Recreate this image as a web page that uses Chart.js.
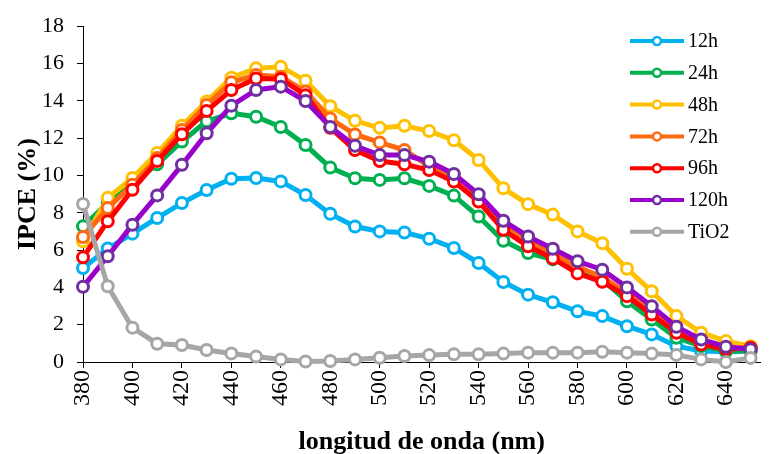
<!DOCTYPE html>
<html>
<head>
<meta charset="utf-8">
<script src="https://cdn.jsdelivr.net/npm/chart.js@4"></script>
<style>
  html, body { margin: 0; padding: 0; background: #fff; }
  #wrap { width: 769px; height: 454px; }
</style>
</head>
<body>
<div id="wrap"><canvas id="ipce"></canvas></div>
<script>
const wavelengths = [380, 390, 400, 410, 420, 430, 440, 450, 460, 470, 480, 490, 500, 510,
  520, 530, 540, 550, 560, 570, 580, 590, 600, 610, 620, 630, 640, 650];

const h12 = [5.04, 6.08, 6.88, 7.72, 8.52, 9.22, 9.82, 9.86, 9.68, 8.95, 7.94, 7.26, 7.0, 6.94,
  6.61, 6.11, 5.31, 4.29, 3.61, 3.2, 2.72, 2.46, 1.92, 1.48, 0.85, 0.59, 0.55, 0.59];
const h24 = [7.27, 8.52, 9.6, 10.6, 11.82, 12.9, 13.33, 13.15, 12.6, 11.63, 10.42, 9.85, 9.76, 9.85,
  9.44, 8.92, 7.8, 6.5, 5.84, 5.5, 4.95, 4.42, 3.26, 2.28, 1.3, 0.85, 0.59, 0.59];
const h48 = [6.47, 8.8, 9.86, 11.2, 12.67, 13.96, 15.24, 15.74, 15.83, 15.08, 13.71, 12.93, 12.55, 12.66,
  12.38, 11.89, 10.83, 9.31, 8.46, 7.9, 7.0, 6.37, 5.0, 3.79, 2.46, 1.57, 1.12, 0.85];
const h72 = [6.7, 8.25, 9.5, 10.93, 12.44, 13.78, 14.99, 15.38, 15.29, 14.5, 13.05, 12.2, 11.77, 11.36,
  10.5, 9.85, 8.75, 7.3, 6.45, 5.8, 5.1, 4.55, 3.7, 2.7, 1.6, 1.0, 0.75, 0.75];
const h96 = [5.61, 7.54, 9.23, 10.78, 12.21, 13.46, 14.58, 15.2, 15.17, 14.3, 12.55, 11.36, 10.77, 10.6,
  10.29, 9.67, 8.6, 7.09, 6.2, 5.55, 4.75, 4.3, 3.53, 2.55, 1.57, 0.94, 0.68, 0.77];
const h120 = [4.03, 5.67, 7.36, 8.93, 10.57, 12.26, 13.74, 14.58, 14.76, 13.99, 12.6, 11.59, 11.09, 11.09,
  10.74, 10.08, 8.99, 7.57, 6.73, 6.07, 5.4, 4.95, 4.0, 2.99, 1.89, 1.21, 0.82, 0.68];
const tio2 = [8.47, 4.06, 1.84, 0.98, 0.91, 0.64, 0.46, 0.29, 0.14, 0.03, 0.05, 0.14, 0.23, 0.32,
  0.37, 0.41, 0.41, 0.45, 0.5, 0.5, 0.5, 0.55, 0.5, 0.45, 0.38, 0.14, 0.0, 0.22];

const seriesNames = ["12h", "24h", "48h", "72h", "96h", "120h", "TiO2"];
const seriesValues = [h12, h24, h48, h72, h96, h120, tio2];
const lineColors = ["#00B0F0", "#00B050", "#FFC000", "#FF6A10", "#FF0000", "#9900CC", "#A6A6A6"];
const markerColors = ["#00B0F0", "#00B050", "#FFC000", "#FF6A10", "#FF0000", "#7030A0", "#A6A6A6"];

const serif = "'Liberation Serif', 'Times New Roman', serif";

const datasets = seriesNames.map((name, i) => ({
  label: name,
  data: wavelengths.map((x, j) => ({ x: x, y: seriesValues[i][j] })),
  borderColor: lineColors[i],
  backgroundColor: lineColors[i],
  borderWidth: 5,
  pointRadius: 5.5,
  pointBorderWidth: 3,
  pointBackgroundColor: "#ffffff",
  pointBorderColor: markerColors[i],
  tension: 0,
  clip: false,
  order: seriesNames.length - i
}));

// legend drawn inside the plot, like the original
const sideLegend = {
  id: "sideLegend",
  afterDraw(chart) {
    const ctx = chart.ctx;
    ctx.save();
    ctx.font = "20px " + serif;
    ctx.textBaseline = "middle";
    seriesNames.forEach((name, i) => {
      const y = 41 + i * 31.8;
      ctx.strokeStyle = lineColors[i];
      ctx.lineWidth = 4;
      ctx.beginPath();
      ctx.moveTo(630, y);
      ctx.lineTo(684, y);
      ctx.stroke();
      ctx.beginPath();
      ctx.arc(657, y, 4, 0, Math.PI * 2);
      ctx.fillStyle = "#fff";
      ctx.fill();
      ctx.lineWidth = 2.5;
      ctx.strokeStyle = markerColors[i];
      ctx.stroke();
      ctx.fillStyle = "#000";
      ctx.fillText(name, 688, y + 1);
    });
    ctx.restore();
  }
};

new Chart(document.getElementById("ipce"), {
  type: "line",
  data: { datasets: datasets },
  plugins: [sideLegend],
  options: {
    responsive: true,
    maintainAspectRatio: false,
    animation: false,
    layout: { padding: { top: 26, right: 0, left: 0, bottom: 0 } },
    plugins: { legend: { display: false }, tooltip: { enabled: false } },
    scales: {
      x: {
        type: "linear",
        min: 380,
        max: 654,
        grid: { drawOnChartArea: false, color: "#000", tickLength: 6 },
        border: { color: "#000", width: 1 },
        ticks: {
          stepSize: 20,
          includeBounds: false,
          minRotation: 90,
          maxRotation: 90,
          padding: 2,
          color: "#000",
          font: { family: serif, size: 24 }
        },
        title: {
          display: true,
          text: "longitud de onda (nm)",
          color: "#000",
          font: { family: serif, size: 26, weight: "bold" },
          padding: { top: 0, bottom: -4 }
        },
        afterFit(scale) { scale.height = 92; }
      },
      y: {
        min: 0,
        max: 18,
        grid: { drawOnChartArea: false, color: "#000", tickLength: 6 },
        border: { color: "#000", width: 1 },
        ticks: {
          stepSize: 2,
          padding: 13,
          color: "#000",
          font: { family: serif, size: 22 }
        },
        title: {
          display: true,
          text: "IPCE (%)",
          color: "#000",
          font: { family: serif, size: 26, weight: "bold" },
          padding: { top: 13, bottom: 0 }
        },
        afterFit(scale) { scale.width = 83; }
      }
    }
  }
});
</script>
</body>
</html>
